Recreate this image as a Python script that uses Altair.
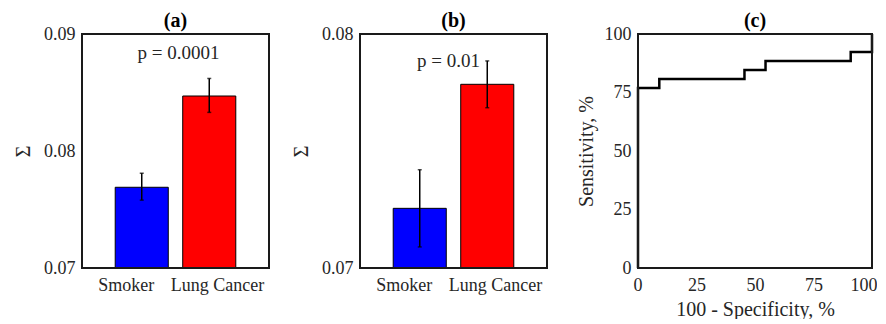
import altair as alt
import pandas as pd

# ---------------- data ----------------
groups = ["Smoker", "Lung Cancer"]
group_pos = [1, 2]
bar_colors = ["#0000FF", "#FF0000"]

a_mean = [0.0769, 0.0847]
a_lo = [0.0758, 0.0833]
a_hi = [0.0781, 0.0862]

b_mean = [0.07255, 0.07785]
b_lo = [0.0709, 0.07685]
b_hi = [0.0742, 0.07885]

roc_fpr = [0, 0, 9.1, 45.5, 54.5, 90.9, 100]
roc_tpr = [0, 76.9, 80.8, 84.6, 88.5, 92.3, 100]

p_texts = ["p = 0.0001", "p = 0.01"]
p_x = [1.545, 1.426]
p_y = [0.0884, 0.07885]

FONT = "Liberation Serif"
TXT = "#262626"
H = 234


def frame(width):
    return alt.Chart(pd.DataFrame({"f": [0]})).mark_rect(
        fill="white", fillOpacity=0, stroke="#1a1a1a", strokeWidth=2
    ).encode(x=alt.value(0), x2=alt.value(width), y=alt.value(0), y2=alt.value(H))


def title(t):
    return alt.TitleParams(t, fontSize=20, fontWeight="bold", font=FONT,
                           color="black", offset=-6, anchor="middle")


def bar_panel(mean, lo, hi, ydom, yticks, ttl, ptxt, px, py, width):
    df = pd.DataFrame({"group": groups, "pos": group_pos, "mean": mean,
                       "lo": lo, "hi": hi})
    xs = alt.Scale(domain=[0.115, 2.885], nice=False, zero=False)
    ys = alt.Scale(domain=ydom, nice=False, zero=False)
    label_expr = f"datum.value < 1.5 ? '{groups[0]}' : '{groups[1]}'"
    base = alt.Chart(df)
    bars = base.transform_calculate(
        x1="datum.pos - 0.393", x2="datum.pos + 0.393"
    ).mark_bar(stroke="black", strokeWidth=1).encode(
        x=alt.X("x1:Q", scale=xs,
                axis=alt.Axis(values=[0.762, 2.115], labelExpr=label_expr,
                              title=None, labelPadding=8, labelFlush=False)),
        x2="x2:Q",
        y=alt.Y("mean:Q", scale=ys,
                axis=alt.Axis(values=yticks, format=".2f", title="Σ",
                              titleFontSize=20, titleFontWeight="normal",
                              titlePadding=10, labelPadding=7)),
        y2=alt.datum(ydom[0]),
        color=alt.Color("group:N", scale=alt.Scale(domain=groups, range=bar_colors),
                        legend=None),
    )
    rules = base.mark_rule(color="black", strokeWidth=1.5).encode(
        x=alt.X("pos:Q", scale=xs), y=alt.Y("lo:Q", scale=ys), y2="hi:Q")
    cap_lo = base.mark_tick(color="black", orient="horizontal", size=4,
                            thickness=1.5).encode(
        x=alt.X("pos:Q", scale=xs), y=alt.Y("lo:Q", scale=ys))
    cap_hi = base.mark_tick(color="black", orient="horizontal", size=4,
                            thickness=1.5).encode(
        x=alt.X("pos:Q", scale=xs), y=alt.Y("hi:Q", scale=ys))
    tdf = pd.DataFrame({"x": [px], "y": [py], "t": [ptxt]})
    ptext = alt.Chart(tdf).mark_text(font=FONT, fontSize=19, color=TXT,
                                     baseline="middle", align="center").encode(
        x=alt.X("x:Q", scale=xs), y=alt.Y("y:Q", scale=ys), text="t:N")
    return alt.layer(bars, rules, cap_lo, cap_hi, ptext, frame(width)).properties(
        width=width, height=H, title=title(ttl))


panel_a = bar_panel(a_mean, a_lo, a_hi, [0.07, 0.09], [0.07, 0.08, 0.09],
                    "(a)", p_texts[0], p_x[0], p_y[0], 187)
panel_b = bar_panel(b_mean, b_lo, b_hi, [0.07, 0.08], [0.07, 0.08],
                    "(b)", p_texts[1], p_x[1], p_y[1], 187)

roc_df = pd.DataFrame({"fpr": roc_fpr, "tpr": roc_tpr,
                       "idx": list(range(len(roc_fpr)))})
roc_line = alt.Chart(roc_df).mark_line(color="black", strokeWidth=2.5,
                                       interpolate="step-after").encode(
    x=alt.X("fpr:Q", scale=alt.Scale(domain=[0, 100], nice=False),
            axis=alt.Axis(values=[0, 25, 50, 75, 100], title="100 - Specificity, %",
                          labelPadding=8, titlePadding=5, titleFontSize=20,
                          titleFontWeight="normal", labelFlush=True,
                          labelFlushOffset=5)),
    y=alt.Y("tpr:Q", scale=alt.Scale(domain=[0, 100], nice=False),
            axis=alt.Axis(values=[0, 25, 50, 75, 100], title="Sensitivity, %",
                          labelPadding=7, titlePadding=8, titleFontSize=20,
                          titleFontWeight="normal", labelFlush=False)),
    order="idx:Q",
)
panel_c = alt.layer(roc_line, frame(234)).properties(width=234, height=H,
                                                     title=title("(c)"))

chart = alt.hconcat(panel_a, panel_b, panel_c, spacing=91, bounds="flush").properties(
    padding={"left": 5, "top": 3, "right": 0, "bottom": 0}
).configure_view(
    stroke=None
).configure_axis(
    domain=False, ticks=False, grid=False,
    labelFont=FONT, labelFontSize=18, labelColor=TXT,
    titleFont=FONT, titleColor=TXT,
)

chart.save("out.html", embed_options={"renderer": "svg", "actions": False})
